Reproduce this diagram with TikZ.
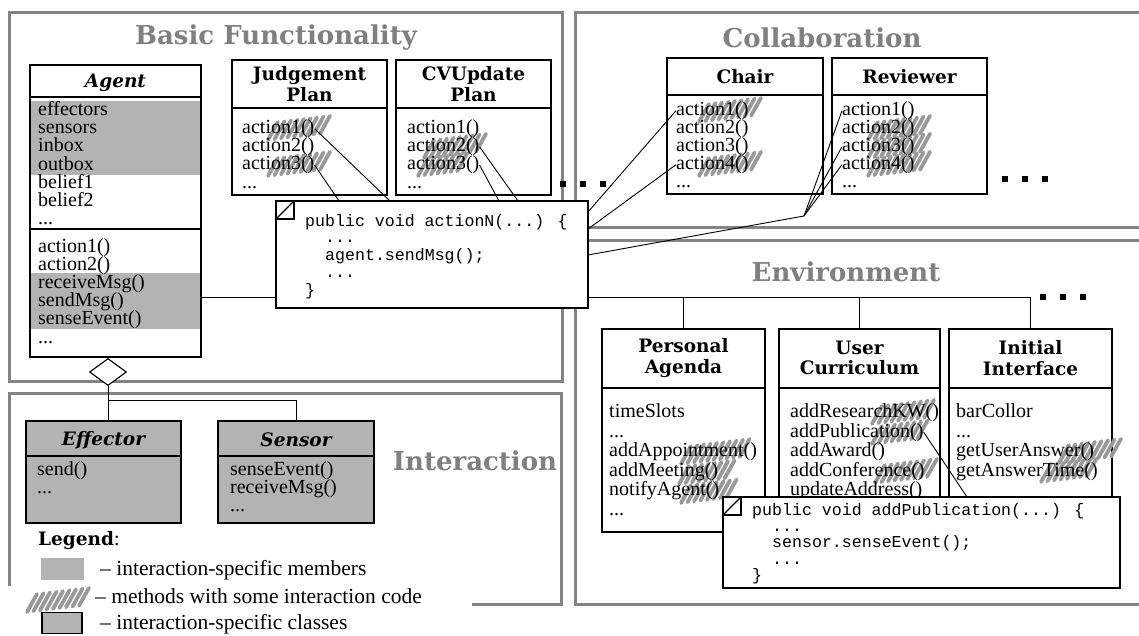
\documentclass[tikz,border=0pt]{standalone}
\usepackage{fontspec}
\setmainfont{Liberation Serif}
\newfontfamily\ttlfam{DejaVu Serif}
\newfontfamily\codefam{Liberation Mono}
\usetikzlibrary{shapes.geometric}
\definecolor{pgray}{HTML}{848484}
\definecolor{tgray}{HTML}{808080}
\definecolor{fgray}{HTML}{B3B3B3}
\definecolor{sgray}{HTML}{999999}
\newcommand\dd{...}
\newcommand\scrib[3]{\foreach \k in {0,6.5,...,#3}{\draw[scribble] ({#1+\k},{#2+9-0.12*\k}) -- ++(10,-18);}}
\newcommand\memlist[5]{\foreach \t [count=\i from 0] in {#5} {\node[mem] (#1\i) at (#2,{#3+#4*\i}) {\t};}}
\begin{document}
\begin{tikzpicture}[x=1pt,y=-1pt,
 panel/.style={draw=pgray,line width=3pt},
 ptitle/.style={text=tgray,font=\ttlfam\bfseries\fontsize{26}{28}\selectfont,inner sep=0},
 cls/.style={draw,line width=1.1pt,fill=white,anchor=north west,inner sep=0,outer sep=0},
 icls/.style={cls,fill=fgray},
 ctitle/.style={font=\ttlfam\bfseries\fontsize{18.5}{20.5}\selectfont,align=center,inner sep=0},
 ititle/.style={font=\ttlfam\bfseries\itshape\fontsize{18.5}{20.5}\selectfont,inner sep=0},
 mem/.style={font=\fontsize{20}{20}\selectfont,anchor=base west,inner sep=0},
 codet/.style={font=\codefam\fontsize{16.6}{17}\selectfont,anchor=base west,inner sep=0},
 note/.style={draw,line width=1.1pt,fill=white,anchor=north west,inner sep=0,outer sep=0},
 conn/.style={draw,line width=0.9pt},
 scribble/.style={draw=sgray,line width=3.8pt,line cap=round},
 sqdot/.style={fill=black,minimum size=6pt,inner sep=0},
 legt/.style={font=\fontsize{21.5}{22}\selectfont,anchor=base west,inner sep=0},
 sep/.style={draw,line width=1.1pt}
]
\useasboundingbox (0,0) rectangle (1139,636);
\clip (0,0) rectangle (1139,636);
% panels
\draw[panel] (9,13) rectangle (562,381);
\draw[panel] (1150,13) -- (575,13) -- (575,228) -- (1150,228);
\draw[panel] (1150,240) -- (575,240) -- (575,604) -- (1150,604);
\draw[panel] (9,586) -- (9,393) -- (561,393) -- (561,604) -- (472,604);
\node[ptitle] (tbasic) at (276,38) {Basic Functionality};
\node[ptitle] (tcollab) at (822,38) {Collaboration};
\node[ptitle] (tenv) at (846,272) {Environment};
\node[ptitle] (tinter) at (475,461) {Interaction};
% class boxes
\node[cls,minimum width=171pt,minimum height=292pt] (agbox) at (30,65) {};
\node[cls,minimum width=155pt,minimum height=135pt] (jpbox) at (232,60) {};
\node[cls,minimum width=155pt,minimum height=135pt] (cvbox) at (396,60) {};
\node[cls,minimum width=156pt,minimum height=136pt] (chbox) at (667,58) {};
\node[cls,minimum width=155pt,minimum height=136pt] (rvbox) at (832,58) {};
\node[cls,minimum width=163pt,minimum height=203pt] (pabox) at (602,329) {};
\node[cls,minimum width=161pt,minimum height=211pt] (ucbox) at (779,329) {};
\node[cls,minimum width=163pt,minimum height=211pt] (iibox) at (949,329) {};
\node[icls,minimum width=155pt,minimum height=102pt] (efbox) at (26,421) {};
\node[icls,minimum width=156pt,minimum height=102pt] (snbox) at (218,421) {};
% highlights
\fill[fgray] (30.6,101) rectangle (200.4,175);
\fill[fgray] (30.6,273) rectangle (200.4,329);
% separators
\draw[sep] (30,97) -- (201,97);
\draw[sep] (30,229) -- (201,229);
\draw[sep] (232,108) -- (387,108);
\draw[sep] (396,108) -- (551,108);
\draw[sep] (667,95) -- (823,95);
\draw[sep] (832,95) -- (987,95);
\draw[sep] (602,388) -- (765,388);
\draw[sep] (779,388) -- (940,388);
\draw[sep] (949,388) -- (1112,388);
\draw[sep] (26,456) -- (181,456);
\draw[sep] (218,456) -- (374,456);
% titles
\node[ititle] (agt) at (115.5,83) {Agent};
\node[ctitle] (jpt) at (309.5,84) {Judgement\\Plan};
\node[ctitle] (cvt) at (473.5,84) {CVUpdate\\Plan};
\node[ctitle] (cht) at (745,77) {Chair};
\node[ctitle] (rvt) at (909.5,77) {Reviewer};
\node[ctitle] (pat) at (683.5,358) {Personal\\Agenda};
\node[ctitle] (uct) at (859.5,358) {User\\Curriculum};
\node[ctitle] (iit) at (1030.5,358) {Initial\\Interface};
\node[ititle] (eft) at (103.5,440) {Effector};
\node[ititle] (snt) at (296,440) {Sensor};
% scribbles
\scrib{268}{131}{56}
\scrib{268}{167}{54}
\scrib{424}{149}{56}
\scrib{418}{167}{44}
\scrib{699}{113}{56}
\scrib{699}{167}{56}
\scrib{868}{131}{54}
\scrib{868}{149}{54}
\scrib{868}{167}{54}
\scrib{681}{455}{60}
\scrib{679}{475}{50}
\scrib{681}{494}{46}
\scrib{872}{415}{56}
\scrib{872}{435}{46}
\scrib{875}{474}{54}
\scrib{1059}{454}{52}
\scrib{1041}{473}{48}
% members
\memlist{ga}{38}{115.5}{18.2}{effectors,sensors,inbox,outbox,belief1,belief2,\dd}
\memlist{gm}{38}{252}{18.2}{action1(),action2(),receiveMsg(),sendMsg(),senseEvent(),\dd}
\memlist{jp}{242}{133.5}{18.2}{action1(),action2(),action3(),\dd}
\memlist{cv}{407}{133.5}{18.2}{action1(),action2(),action3(),\dd}
\memlist{ch}{676}{115.5}{18}{action1(),action2(),action3(),action4(),\dd}
\memlist{rv}{842}{115.5}{18}{action1(),action2(),action3(),action4(),\dd}
\memlist{pa}{609}{417.5}{19.5}{timeSlots,\dd,addAppointment(),addMeeting(),notifyAgent(),\dd}
\memlist{uc}{790}{417.5}{19.5}{addResearchKW(),addPublication(),addAward(),addConference(),updateAddress()}
\memlist{ii}{956}{417.5}{19.5}{barCollor,\dd,getUserAnswer(),getAnswerTime()}
\memlist{ef}{37}{475}{18}{send(),\dd}
\memlist{sn}{230}{475}{18}{senseEvent(),receiveMsg(),\dd}
% aggregation
\node[diamond,draw,line width=1.1pt,fill=white,minimum width=37pt,minimum height=27pt,inner sep=0] (dia) at (108,372) {};
\coordinate (br) at (108,400);
\draw[conn] (dia.south) -- (dia.south |- efbox.north);
\draw[conn] (br) -| (snbox.north);
% bus from Agent to environment classes
\coordinate (agR) at (201,297);
\draw[conn] (agR) -| (iibox.north);
\draw[conn] (pabox.north) -- (pabox.north |- agR);
\draw[conn] (ucbox.north) -- (ucbox.north |- agR);
% code notes
\node[note,minimum width=312pt,minimum height=107pt] (code1) at (276,201) {};
\draw[line width=1.1pt] ([yshift=-18pt]code1.north west) -- ++(18,0) -- ++(0,-18);
\draw[line width=1.1pt] ([yshift=-18pt]code1.north west) -- ([xshift=18pt]code1.north west);
\node[codet] (k1) at (305,226) {public void actionN(...) \{};
\node[codet] (k2) at (325,243) {...};
\node[codet] (k3) at (325,260) {agent.sendMsg();};
\node[codet] (k4) at (325,277) {...};
\node[codet] (k5) at (305,295) {\}};
\node[note,minimum width=397pt,minimum height=91pt] (code2) at (723,497) {};
\draw[line width=1.1pt] ([yshift=-18pt]code2.north west) -- ++(18,0) -- ++(0,-18);
\draw[line width=1.1pt] ([yshift=-18pt]code2.north west) -- ([xshift=18pt]code2.north west);
\node[codet] (m1) at (752,515) {public void addPublication(...) \{};
\node[codet] (m2) at (772,531.3) {...};
\node[codet] (m3) at (772,547.6) {sensor.senseEvent();};
\node[codet] (m4) at (772,564) {...};
\node[codet] (m5) at (752,580) {\}};
% connectors
\coordinate (c1a) at (390,201);
\coordinate (c1b) at (339,201);
\coordinate (c1c) at (518,201);
\coordinate (c1d) at (499,201);
\coordinate (c1e) at (588,212);
\coordinate (c1f) at (588,229);
\coordinate (c1g) at (588,255);
\coordinate (fan) at (804,216);
\coordinate (c2a) at (967,497);
\draw[conn] (jp0.east) -- (c1a);
\draw[conn] (jp2.east) -- (c1b);
\draw[conn] (cv1.east) -- (c1c);
\draw[conn] (cv2.east) -- (c1d);
\draw[conn] (c1e) -- (ch0.west);
\draw[conn] (c1f) -- (ch3.west);
\draw[conn] (c1g) -- (fan);
\draw[conn] (fan) -- (rv0.west);
\draw[conn] (fan) -- (rv2.west);
\draw[conn] (fan) -- (rv3.west);
\draw[conn] (uc1.east) -- (c2a);
% ellipsis dots
\node[sqdot] (d1) at (563,184) {};
\node[sqdot] (d2) at (583,184) {};
\node[sqdot] (d3) at (603,184) {};
\node[sqdot] (d4) at (1005,179) {};
\node[sqdot] (d5) at (1025,179) {};
\node[sqdot] (d6) at (1045,179) {};
\node[sqdot] (d7) at (1043,297) {};
\node[sqdot] (d8) at (1063,297) {};
\node[sqdot] (d9) at (1083,297) {};
% legend
\node[font=\ttlfam\bfseries\fontsize{18.5}{20}\selectfont,anchor=base west,inner sep=0] (leg) at (38,545) {Legend\normalfont\fontsize{20}{20}\selectfont:};
\node[fill=fgray,minimum width=43pt,minimum height=22pt,inner sep=0] (sw1) at (62.5,569) {};
\node[legt] (lt1) at (100,575) {– interaction-specific members};
\scrib{27}{603}{54}
\node[legt] (lt2) at (95,603) {– methods with some interaction code};
\node[draw,line width=1.1pt,fill=fgray,minimum width=40pt,minimum height=21pt,inner sep=0] (sw3) at (62,623) {};
\node[legt] (lt3) at (100,629) {– interaction-specific classes};
\end{tikzpicture}
\end{document}
